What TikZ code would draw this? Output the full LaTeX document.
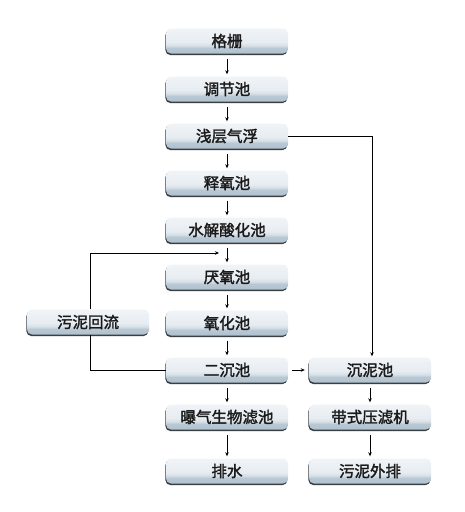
\documentclass[tikz,border=0pt]{standalone}
\usepackage{fontspec}
\newfontfamily\cjk[FakeBold=2]{Noto Sans CJK SC}
\usetikzlibrary{arrows.meta,calc}
\definecolor{boxedge}{HTML}{3A3F44}
\definecolor{txt}{HTML}{1A1A1A}
\pgfdeclareverticalshading{boxshade}{100bp}{%
  color(0bp)=(rgb,255:red,176;green,193;blue,206);
  color(25bp)=(rgb,255:red,176;green,193;blue,206);
  color(36bp)=(rgb,255:red,184;green,200;blue,212);
  color(41bp)=(rgb,255:red,214;green,224;blue,231);
  color(47bp)=(rgb,255:red,230;green,236;blue,241);
  color(75bp)=(rgb,255:red,241;green,244;blue,247);
  color(100bp)=(rgb,255:red,241;green,244;blue,247)}
\tikzset{
  procbox/.style={rounded corners=5pt, minimum width=122pt, minimum height=25pt,
    inner sep=0pt, shading=boxshade,
    draw=none, font=\cjk\fontsize{15.5}{17}\selectfont, text=txt,
    preaction={fill=boxedge, transform canvas={xshift=-0.6pt, yshift=-1.6pt}}},
  flow/.style={draw=black, line width=0.8pt, -{Stealth[length=4pt,width=3.5pt]}},
  plain/.style={draw=black, line width=0.8pt}
}
\begin{document}
\begin{tikzpicture}[x=1pt,y=-1pt]
\useasboundingbox (0,0) rectangle (465,512);
\fill[white] (0,0) rectangle (465,512);
% main column
\node[procbox] (a1) at (227,41) {格栅};
\node[procbox] (a2) at (227,89) {调节池};
\node[procbox] (a3) at (227,136) {浅层气浮};
\node[procbox] (a4) at (227,183) {释氧池};
\node[procbox] (a5) at (227,230) {水解酸化池};
\node[procbox] (a6) at (227,277) {厌氧池};
\node[procbox] (a7) at (227,323) {氧化池};
\node[procbox] (a8) at (227,370) {二沉池};
\node[procbox] (a9) at (227,417) {曝气生物滤池};
\node[procbox] (a10) at (227,471) {排水};
% right column
\node[procbox] (b1) at (370,370) {沉泥池};
\node[procbox] (b2) at (370,417) {带式压滤机};
\node[procbox] (b3) at (370,471) {污泥外排};
% left
\node[procbox] (c1) at (88,322) {污泥回流};
% main arrows
\foreach \u/\v in {a1/a2,a2/a3,a3/a4,a4/a5,a5/a6,a6/a7,a7/a8,a8/a9,a9/a10,b1/b2,b2/b3}
  \draw[flow, shorten <=5pt, shorten >=2pt] (\u.south) -- (\v.north);
% float to sludge tank
\coordinate (r1) at (372,136);
\draw[flow, shorten >=1pt] (a3.east) -- (r1) -- (r1 |- b1.north);
% secondary sedimentation to sludge tank
\draw[flow, shorten <=4pt, shorten >=4pt] (a8.east) -- (b1.west);
% sludge return
\coordinate (l1) at (90,253);
\coordinate (l2) at (219,253);
\coordinate (l3) at (90,370);
\draw[flow] (c1.north -| l1) -- (l1) -- (l2);
\draw[plain] (c1.south -| l3) -- (l3) -- (a8.west);
\end{tikzpicture}
\end{document}
